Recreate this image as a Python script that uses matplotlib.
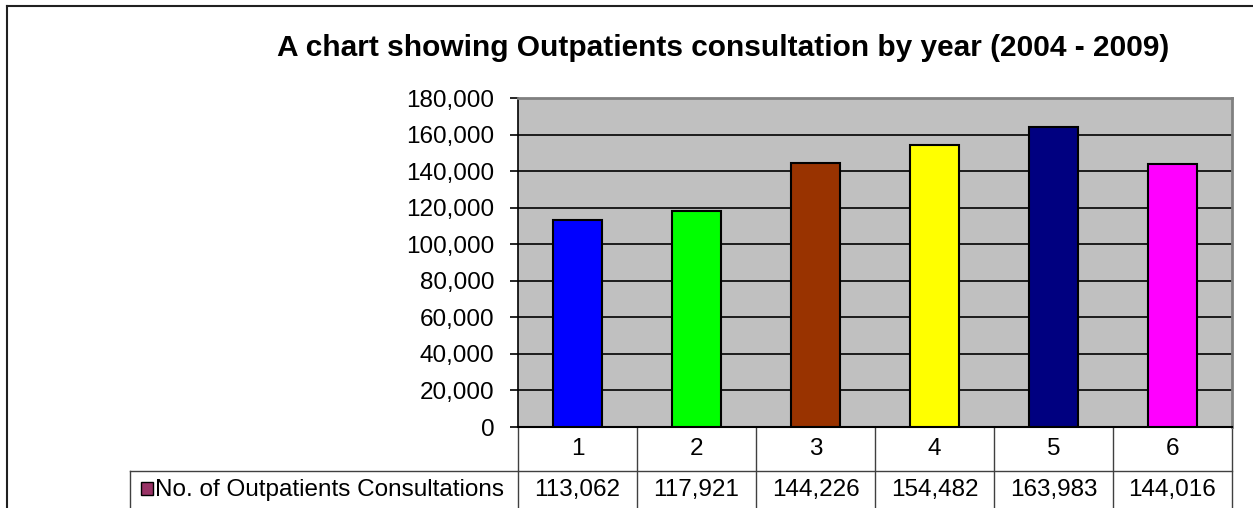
#!/usr/bin/env python3
import matplotlib.pyplot as plt
import matplotlib.transforms as mtransforms
from matplotlib.lines import Line2D
from matplotlib.patches import Rectangle

plt.rcParams["font.family"] = ["Liberation Sans", "DejaVu Sans"]

# data
categories = ["1", "2", "3", "4", "5", "6"]
consultations = [113062, 117921, 144226, 154482, 163983, 144016]
bar_colors = ["#0000FF", "#00FF00", "#993300", "#FFFF00", "#000080", "#FF00FF"]
series_name = "No. of Outpatients Consultations"
title = "A chart showing Outpatients consultation by year (2004 - 2009)"
yticks = list(range(0, 180001, 20000))

W, H = 1253, 508
FS = 17.5


def fx(px):
    return px / W


def fy(py):
    return 1 - py / H


def main():
    fig = plt.figure(figsize=(W / 100, H / 100), dpi=100)
    fig.patch.set_facecolor("white")

    ax = fig.add_axes([fx(518), fy(427), fx(1232) - fx(518), fy(98) - fy(427)])
    ax.set_facecolor("#C0C0C0")

    x = list(range(1, len(categories) + 1))
    ax.bar(x, consultations, width=0.41, color=bar_colors,
           edgecolor="black", linewidth=1.5, zorder=3)

    ax.set_xlim(0.5, len(categories) + 0.5)
    ax.set_ylim(0, 180000)
    ax.set_yticks(yticks)
    ax.set_yticklabels([f"{v:,}" for v in yticks])
    ax.yaxis.grid(True, color="black", linewidth=1.2, zorder=1)
    ax.set_axisbelow(True)
    ax.set_xticks([])
    ax.tick_params(axis="y", length=6, width=1.2, pad=11, labelsize=FS,
                   color="black")

    for side in ["top", "right"]:
        ax.spines[side].set_color("#808080")
        ax.spines[side].set_linewidth(2)
    ax.spines["left"].set_color("black")
    ax.spines["left"].set_linewidth(1.2)
    ax.spines["bottom"].set_color("black")
    ax.spines["bottom"].set_linewidth(1.5)

    # data table under the axis
    trans = mtransforms.blended_transform_factory(ax.transData, ax.transAxes)
    ph = 427 - 98
    r1 = -44 / ph
    r2 = -90 / ph
    line_kw = dict(color="#404040", linewidth=1.0, clip_on=False)
    n = len(categories)
    for i in range(n + 1):
        xb = 0.5 + i
        ax.add_line(Line2D([xb, xb], [0, r2], transform=trans, **line_kw))
    ax.add_line(Line2D([0.5, n + 0.5], [r1, r1], transform=trans, **line_kw))
    yrow2 = -(490 - 427) / ph
    for xi, cat, val in zip(x, categories, consultations):
        ax.text(xi, r1 / 2, cat, transform=trans, ha="center", va="center",
                fontsize=FS, clip_on=False)
        ax.text(xi, yrow2, f"{val:,}", transform=trans,
                ha="center", va="center", fontsize=FS, clip_on=False)

    # row label cell
    fig.add_artist(Line2D([fx(130), fx(518)], [fy(471), fy(471)],
                          transform=fig.transFigure, color="#404040", linewidth=1.0))
    fig.add_artist(Line2D([fx(130), fx(130)], [fy(471), fy(515)],
                          transform=fig.transFigure, color="#404040", linewidth=1.0))
    fig.add_artist(Rectangle((fx(141), fy(495)), fx(12), fy(482) - fy(495),
                             transform=fig.transFigure, facecolor="#993366",
                             edgecolor="black", linewidth=1.0))
    fig.text(fx(155), fy(490), series_name, ha="left", va="center", fontsize=FS)

    # chart title
    fig.text(fx(723), fy(48), title, ha="center", va="center",
             fontsize=21.5, fontweight="bold")

    # chart area border (left and top visible)
    fig.add_artist(Line2D([fx(7), fx(7)], [fy(6), 0], transform=fig.transFigure,
                          color="#202020", linewidth=1.5))
    fig.add_artist(Line2D([fx(7), 1], [fy(6), fy(6)], transform=fig.transFigure,
                          color="#202020", linewidth=1.5))

    fig.savefig("out.png", dpi=100)


if __name__ == "__main__":
    main()
